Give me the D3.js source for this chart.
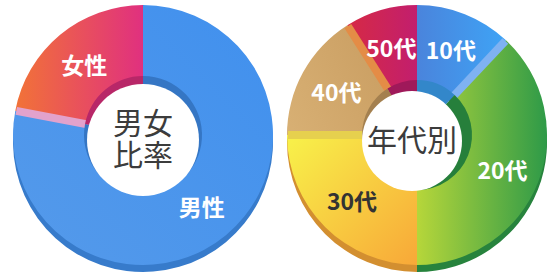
<!DOCTYPE html>
<html lang="ja">
<head>
<meta charset="UTF-8">
<title>男女比率・年代別</title>
<style>
    html, body { margin: 0; padding: 0; background: #fff; }
    svg { display: block; }
    .label { font-family: "Noto Sans CJK JP", sans-serif; font-weight: 700; font-size: 23px; }
    .center { font-family: "Noto Sans CJK JP", sans-serif; font-weight: 400; font-size: 30px; fill: #3c3c3c; }
</style>
</head>
<body>
<script src="https://d3js.org/d3.v7.min.js"></script>
<script>
    // データ
    const sexLabels = ["男性", "女性"];
    const sexValues = [78, 22];
    const ageLabels = ["10代", "20代", "30代", "40代", "50代"];
    const ageValues = [12, 38, 25, 16, 9];

    const width = 557, height = 275;

    const svg = d3.select("body").append("svg")
        .attr("width", width)
        .attr("height", height);
    const defs = svg.append("defs");

    // 各ドーナツの見た目
    const charts = [
        {
            id: "sex", labels: sexLabels, values: sexValues,
            cx: 143, cy: 135, title: ["男女", "比率"],
            hole: {dx: 0, dy: 5, r: 56}, wallR: 59,
            grads: [
                {x1: -130, y1: 130, x2: 130, y2: -130, c: ["#559aea", "#4090ee"]},
                {x1: -130, y1: 0, x2: 0, y2: 0, c: ["#f27436", "#e0307f"]}
            ],
            bands: ["#e2a2cc", null],
            text: ["#fff", "#fff"]
        },
        {
            id: "age", labels: ageLabels, values: ageValues,
            cx: 417, cy: 135, title: ["年代別"],
            hole: {dx: -5, dy: 6, r: 50}, wallR: 55,
            grads: [
                {x1: 0, y1: 0, x2: 90, y2: 0, c: ["#4a84dc", "#3ea4f6"]},
                {x1: 0, y1: 0, x2: 130, y2: 0, c: ["#b6d63a", "#2e9a48"]},
                {x1: -130, y1: 0, x2: 0, y2: 130, c: ["#f8f24a", "#f8a838"]},
                {x1: -130, y1: 0, x2: 0, y2: -60, c: ["#d8b074", "#c89c60"]},
                {x1: -70, y1: 0, x2: 0, y2: 0, c: ["#d62a44", "#c21e6e"]}
            ],
            bands: ["#7fb2f2", null, "#e6d04e", "#e48c46", null],
            text: ["#fff", "#fff", "#333", "#fff", "#fff"]
        }
    ];

    const R = 130, r0 = 52, depth = 7, labelR = 92;

    const pie = d3.pie().sort(null).value(d => d);
    const faceArc = d3.arc().innerRadius(r0).outerRadius(R);
    const labelArc = d3.arc().innerRadius(labelR).outerRadius(labelR);

    charts.forEach(ch => {
        const arcs = pie(ch.values);
        const g = svg.append("g").attr("transform", `translate(${ch.cx},${ch.cy})`);

        // グラデーション
        ch.grads.forEach((gr, i) => {
            const lg = defs.append("linearGradient")
                .attr("id", `${ch.id}-g${i}`)
                .attr("gradientUnits", "userSpaceOnUse")
                .attr("x1", gr.x1).attr("y1", gr.y1)
                .attr("x2", gr.x2).attr("y2", gr.y2);
            lg.append("stop").attr("offset", "0%").attr("stop-color", gr.c[0]);
            lg.append("stop").attr("offset", "100%").attr("stop-color", gr.c[1]);
        });

        // 側面（厚み）
        g.append("g").attr("transform", `translate(0,${depth})`)
            .selectAll("path").data(arcs).join("path")
            .attr("d", faceArc)
            .attr("fill", (d, i) => d3.color(ch.grads[i].c[1]).darker(0.45));

        // 上面
        g.append("g").selectAll("path").data(arcs).join("path")
            .attr("d", faceArc)
            .attr("fill", (d, i) => `url(#${ch.id}-g${i})`);

        // 区切りの帯
        arcs.forEach((d, i) => {
            if (!ch.bands[i]) return;
            const a = d.endAngle;
            const p0 = d3.pointRadial(a, r0 + 2);
            const p1 = d3.pointRadial(a, R - 1);
            g.append("line")
                .attr("x1", p0[0]).attr("y1", p0[1])
                .attr("x2", p1[0]).attr("y2", p1[1])
                .attr("stroke", ch.bands[i])
                .attr("stroke-width", 8);
        });

        // 内側の壁
        const wallArc = d3.arc().innerRadius(20).outerRadius(ch.wallR);
        g.append("g").selectAll("path").data(arcs).join("path")
            .attr("d", wallArc)
            .attr("fill", (d, i) => d3.color(ch.grads[i].c[1]).darker(0.55));

        // 穴
        g.append("circle")
            .attr("cx", ch.hole.dx).attr("cy", ch.hole.dy)
            .attr("r", ch.hole.r)
            .attr("fill", "#fff");

        // ラベル
        g.append("g").selectAll("text").data(arcs).join("text")
            .attr("class", "label")
            .attr("transform", d => `translate(${labelArc.centroid(d)})`)
            .attr("text-anchor", "middle")
            .attr("dominant-baseline", "central")
            .attr("fill", (d, i) => ch.text[i])
            .text((d, i) => ch.labels[i]);

        // 中央のタイトル（1つのtextに行ごとのtspan）
        const lineH = 32;
        const off = (ch.title.length - 1) * lineH / 2;
        g.append("text")
            .attr("class", "center")
            .attr("text-anchor", "middle")
            .selectAll("tspan").data(ch.title).join("tspan")
            .attr("x", ch.hole.dx)
            .attr("y", (t, i) => ch.hole.dy - 3 + i * lineH - off)
            .attr("dominant-baseline", "central")
            .text(t => t);
    });
</script>
</body>
</html>
